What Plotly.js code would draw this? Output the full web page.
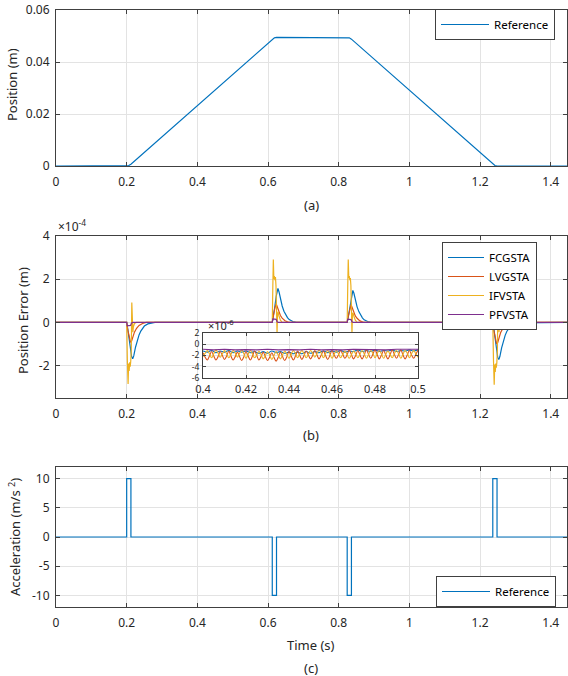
<!DOCTYPE html>
<html>
<head>
<meta charset="utf-8">
<script src="https://cdn.plot.ly/plotly-3.0.1.min.js"></script>
<style>html,body{margin:0;padding:0;background:#fff;}#chart{width:568px;height:676px;}</style>
</head>
<body>
<div id="chart"></div>
<script>
// ---------- Panel (a): reference position ----------
var posTime = [0, 0.2, 0.206, 0.212, 0.612, 0.618, 0.624, 0.824, 0.83, 0.836, 1.236, 1.242, 1.248, 1.446];
var posValue = [0, 0, 0.0002, 0.0007, 0.0488, 0.0493, 0.0495, 0.0495, 0.0493, 0.0488, 0.0007, 0.0002, 0, 0];

// ---------- Panel (b): position error (units of 1e-4 m) ----------
var fcgTime = [0, 0.2, 0.203, 0.207, 0.211, 0.214, 0.217, 0.22, 0.225, 0.23, 0.235, 0.24, 0.245, 0.25, 0.26, 0.27, 0.28,
  0.612, 0.615, 0.619, 0.623, 0.626, 0.628, 0.631, 0.635, 0.64, 0.645, 0.65, 0.655, 0.66, 0.67, 0.68,
  0.824, 0.827, 0.831, 0.835, 0.838, 0.840, 0.843, 0.847, 0.852, 0.857, 0.862, 0.867, 0.872, 0.882, 0.892,
  1.236, 1.239, 1.243, 1.247, 1.25, 1.253, 1.256, 1.261, 1.266, 1.271, 1.276, 1.281, 1.286, 1.296, 1.306, 1.446];
var fcgErr = [0, 0, -0.3, -0.8, -1.3, -1.58, -1.68, -1.55, -1.15, -0.82, -0.58, -0.4, -0.27, -0.17, -0.07, -0.02, 0,
  0, 0.25, 0.7, 1.2, 1.5, 1.57, 1.42, 1.08, 0.76, 0.52, 0.35, 0.22, 0.13, 0.04, 0,
  0, 0.24, 0.66, 1.14, 1.42, 1.48, 1.35, 1.03, 0.72, 0.5, 0.33, 0.21, 0.12, 0.04, 0,
  0, -0.3, -0.82, -1.33, -1.62, -1.72, -1.58, -1.18, -0.84, -0.6, -0.41, -0.28, -0.18, -0.07, -0.02, 0];

var lvgTime = [0, 0.2, 0.203, 0.207, 0.211, 0.214, 0.218, 0.222, 0.228, 0.235, 0.245, 0.255,
  0.612, 0.615, 0.619, 0.623, 0.626, 0.63, 0.635, 0.64, 0.648, 0.658,
  0.824, 0.827, 0.831, 0.835, 0.838, 0.842, 0.847, 0.852, 0.86, 0.87,
  1.236, 1.239, 1.243, 1.247, 1.25, 1.254, 1.258, 1.264, 1.271, 1.281, 1.291, 1.446];
var lvgErr = [0, 0, -0.35, -0.72, -0.92, -0.86, -0.65, -0.45, -0.27, -0.14, -0.05, 0,
  0, 0.3, 0.65, 0.86, 0.72, 0.5, 0.32, 0.2, 0.08, 0,
  0, 0.28, 0.62, 0.82, 0.69, 0.48, 0.3, 0.19, 0.07, 0,
  0, -0.38, -0.78, -1.0, -0.93, -0.7, -0.48, -0.29, -0.15, -0.05, 0, 0];

var ifvTime = [0, 0.2, 0.202, 0.204, 0.2055, 0.207, 0.2085, 0.21, 0.2115, 0.213, 0.2145, 0.216, 0.2175, 0.219, 0.222, 0.227,
  0.612, 0.6135, 0.615, 0.6165, 0.618, 0.6195, 0.621, 0.6225, 0.624, 0.6255, 0.627, 0.6285, 0.631, 0.635, 0.64,
  0.824, 0.8255, 0.827, 0.8285, 0.83, 0.8315, 0.833, 0.8345, 0.836, 0.8375, 0.839, 0.8405, 0.843, 0.847, 0.852,
  1.236, 1.238, 1.24, 1.2415, 1.243, 1.2445, 1.246, 1.2475, 1.249, 1.2505, 1.252, 1.2535, 1.255, 1.258, 1.263, 1.446];
var ifvErr = [0, 0, -1.8, -2.85, -1.9, -2.25, -1.85, -2.05, -1.8, -1.3, 0.92, 0.1, -0.45, -0.2, -0.05, 0,
  0, 1.6, 2.91, 2.0, 2.15, 1.95, 2.1, 1.7, 0.9, -0.5, 0.4, 0.5, 0.3, 0.1, 0,
  0, 1.6, 2.91, 2.05, 2.15, 1.95, 2.05, 1.7, 0.9, -0.5, 0.4, 0.45, 0.28, 0.1, 0,
  0, -1.8, -2.88, -1.95, -2.3, -1.9, -2.1, -1.85, -1.3, 0.9, 0.1, -0.45, -0.2, -0.05, 0, 0];

var pfvTime = [0, 0.2, 0.2015, 0.211, 0.2135, 0.217, 0.612, 0.6135, 0.623, 0.6255, 0.629,
  0.824, 0.8255, 0.835, 0.8375, 0.841, 1.236, 1.2375, 1.247, 1.2495, 1.253, 1.446];
var pfvErr = [0, 0, -0.16, -0.14, -0.03, 0, 0, 0.16, 0.14, 0.03, 0,
  0, 0.15, 0.13, 0.03, 0, 0, -0.16, -0.14, -0.03, 0, 0];

// ---------- Inset (units of 1e-6 m), t = 0.4 ... 0.5 ----------
var insetLvg = [
  -1.5,-2.3,-2.8,-2.1, -1.3,-2.1,-2.8,-2.2, -1.3,-2.0,-2.7,-2.1, -1.2,-2.1,-2.8,-2.2,
  -1.4,-2.2,-2.9,-2.2, -1.3,-2.1,-2.8,-2.1, -1.2,-2.0,-2.8,-2.2, -1.4,-2.2,-2.9,-2.3,
  -1.5,-2.3,-3.0,-2.3, -1.4,-2.2,-2.9,-2.2, -1.3,-2.1,-2.8,-2.1, -1.2,-2.0,-2.7,-2.0,
  -1.2,-1.9,-2.6,-2.0, -1.1,-1.9,-2.6,-1.9, -1.2,-2.0,-2.7,-2.0, -1.1,-1.9,-2.5,-1.9,
  -1.1,-1.8,-2.5,-1.9, -1.0,-1.8,-2.6,-2.0, -1.1,-1.9,-2.6,-1.9, -1.0,-1.8,-2.5,-1.8,
  -1.0,-1.8,-2.6,-1.9, -1.1,-1.9,-2.6,-1.9, -1.0,-1.8,-2.5,-1.8, -1.0,-1.9,-2.6,-1.9,
  -1.1,-1.9,-2.5,-1.8, -1.0];
var insetIfv = [
  -2.2,-1.6,-1.1,-1.7, -2.4,-1.7,-1.0,-1.6, -2.3,-1.7,-1.1,-1.7, -2.4,-1.8,-1.1,-1.6,
  -2.3,-1.6,-1.0,-1.7, -2.5,-1.8,-1.1,-1.7, -2.4,-1.9,-1.2,-1.8, -2.6,-2.0,-1.3,-1.9,
  -2.7,-2.0,-1.3,-1.9, -2.6,-1.9,-1.2,-1.8, -2.5,-1.8,-1.1,-1.7, -2.4,-1.7,-1.1,-1.7,
  -2.4,-1.8,-1.1,-1.6, -2.3,-1.7,-1.0,-1.6, -2.4,-1.7,-1.1,-1.7, -2.5,-1.8,-1.1,-1.7,
  -2.4,-1.8,-1.2,-1.8, -2.5,-1.9,-1.2,-1.7, -2.4,-1.8,-1.1,-1.7, -2.5,-1.8,-1.1,-1.6,
  -2.4,-1.7,-1.1,-1.7, -2.5,-1.8,-1.2,-1.8, -2.4,-1.7,-1.1,-1.7, -2.5,-1.8,-1.1,-1.6,
  -2.4,-1.7,-1.1,-1.7, -2.3];
var insetFcg = [-1.2,-1.4,-1.1,-1.5,-1.2,-1.4,-1.1,-1.5,-1.2,-1.4,
  -1.2,-1.5,-1.3,-1.6,-1.3,-1.6,-1.2,-1.5,-1.3,-1.6,
  -1.4,-1.7,-1.4,-1.7,-1.3,-1.6,-1.3,-1.5,-1.2,-1.5,
  -1.2,-1.4,-1.1,-1.4,-1.2,-1.3,-1.0,-1.3,-1.1,-1.3,
  -1.0,-1.3,-1.1,-1.2,-1.0,-1.3,-1.1,-1.2,-1.0,-1.2,-1.0];
var insetPfv = [-0.9,-1.0,-0.9,-1.0,-0.95,-1.0,-0.9,-1.0,-0.95,-1.0,-0.9,-1.0,-0.95,-1.0,-0.9,-0.95,-0.9,-1.0,-0.9,-0.95,-0.9];

// ---------- Panel (c): reference acceleration ----------
var accTime = [0, 0.2, 0.2, 0.212, 0.212, 0.612, 0.612, 0.624, 0.624, 0.824, 0.824, 0.836, 0.836, 1.236, 1.236, 1.248, 1.248, 1.446];
var accValue = [0, 0, 10, 10, 0, 0, -10, -10, 0, 0, -10, -10, 0, 0, 10, 10, 0, 0];

// ---------- Ticks ----------
var timeTicks = [0, 0.2, 0.4, 0.6, 0.8, 1, 1.2, 1.4];
var timeTickText = ['0', '0.2', '0.4', '0.6', '0.8', '1', '1.2', '1.4'];
var posTicks = [0, 0.02, 0.04, 0.06];
var posTickText = ['0', '0.02', '0.04', '0.06'];
var errTicks = [-2, 0, 2, 4];
var errTickText = ['-2', '0', '2', '4'];
var accTicks = [-10, -5, 0, 5, 10];
var accTickText = ['-10', '-5', '0', '5', '10'];
var insetXTicks = [0.4, 0.42, 0.44, 0.46, 0.48, 0.5];
var insetXTickText = ['0.4', '0.42', '0.44', '0.46', '0.48', '0.5'];
var insetYTicks = [-6, -4, -2, 0, 2];
var insetYTickText = ['-6', '-4', '-2', '0', '2'];

var C_BLUE = '#0072BD', C_RED = '#D95319', C_YEL = '#EDB120', C_PUR = '#7E2F8E';
var FONT = '"Noto Sans", "Open Sans", sans-serif';
var AX = '#404040', GRID = '#e3e3e3', TXT = '#262626';

var traces = [
  {x: posTime, y: posValue, type: 'scatter', mode: 'lines', name: 'Reference', line: {color: C_BLUE, width: 1.2}, xaxis: 'x', yaxis: 'y', legend: 'legend'},
  {x: fcgTime, y: fcgErr, type: 'scatter', mode: 'lines', name: 'FCGSTA', line: {color: C_BLUE, width: 1.2}, xaxis: 'x2', yaxis: 'y2', legend: 'legend2'},
  {x: lvgTime, y: lvgErr, type: 'scatter', mode: 'lines', name: 'LVGSTA', line: {color: C_RED, width: 1.2}, xaxis: 'x2', yaxis: 'y2', legend: 'legend2'},
  {x: ifvTime, y: ifvErr, type: 'scatter', mode: 'lines', name: 'IFVSTA', line: {color: C_YEL, width: 1.2}, xaxis: 'x2', yaxis: 'y2', legend: 'legend2'},
  {x: pfvTime, y: pfvErr, type: 'scatter', mode: 'lines', name: 'PFVSTA', line: {color: C_PUR, width: 1.2}, xaxis: 'x2', yaxis: 'y2', legend: 'legend2'},
  {x0: 0.4, dx: 0.002, y: insetFcg, type: 'scatter', mode: 'lines', name: 'FCGSTA', showlegend: false, line: {color: C_BLUE, width: 1.1, shape: 'spline'}, xaxis: 'x4', yaxis: 'y4'},
  {x0: 0.4, dx: 0.001, y: insetLvg, type: 'scatter', mode: 'lines', name: 'LVGSTA', showlegend: false, line: {color: C_RED, width: 1.1, shape: 'spline'}, xaxis: 'x4', yaxis: 'y4'},
  {x0: 0.4, dx: 0.001, y: insetIfv, type: 'scatter', mode: 'lines', name: 'IFVSTA', showlegend: false, line: {color: C_YEL, width: 1.1, shape: 'spline'}, xaxis: 'x4', yaxis: 'y4'},
  {x0: 0.4, dx: 0.005, y: insetPfv, type: 'scatter', mode: 'lines', name: 'PFVSTA', showlegend: false, line: {color: C_PUR, width: 1.1}, xaxis: 'x4', yaxis: 'y4'},
  {x: accTime, y: accValue, type: 'scatter', mode: 'lines', name: 'Reference', line: {color: C_BLUE, width: 1.2}, xaxis: 'x3', yaxis: 'y3', legend: 'legend3'}
];

function xAx(anchor, extra) {
  var a = {anchor: anchor, domain: [0, 1], range: [0, 1.446], tickvals: timeTicks, ticktext: timeTickText,
    showline: true, linecolor: AX, linewidth: 1, mirror: 'ticks', ticks: 'inside', ticklen: 4, tickcolor: AX,
    showgrid: true, gridcolor: GRID, zeroline: false, ticklabelstandoff: 5,
    tickfont: {family: FONT, size: 12, color: TXT}};
  for (var k in extra) a[k] = extra[k];
  return a;
}
function yAx(anchor, domain, range, tv, tt, extra) {
  var a = {anchor: anchor, domain: domain, range: range, tickvals: tv, ticktext: tt,
    showline: true, linecolor: AX, linewidth: 1, mirror: 'ticks', ticks: 'inside', ticklen: 4, tickcolor: AX,
    showgrid: true, gridcolor: GRID, zeroline: false, ticklabelstandoff: 3,
    tickfont: {family: FONT, size: 12, color: TXT}};
  for (var k in extra) a[k] = extra[k];
  return a;
}

var L = 56, R = 1, T = 10, B = 0;
var W = 568 - L - R, H = 676 - T - B;
function px(x) { return (x - L) / W; }
function py(y) { return 1 - (y - T) / H; }

function leg(x, y, iw) {
  return {bgcolor: '#ffffff', bordercolor: AX, borderwidth: 1, xanchor: 'left', yanchor: 'top',
    font: {family: FONT, size: 11.5, color: '#000'}, itemwidth: iw, tracegroupgap: 0, x: x, y: y};
}

var layout = {
  width: 568, height: 676,
  margin: {l: L, r: R, t: T, b: B},
  paper_bgcolor: '#ffffff', plot_bgcolor: '#ffffff',
  font: {family: FONT, size: 12, color: TXT},
  xaxis: xAx('y', {}),
  xaxis2: xAx('y2', {}),
  xaxis3: xAx('y3', {}),
  xaxis4: {anchor: 'y4', domain: [px(203), px(418)], range: [0.4, 0.5], tickvals: insetXTicks, ticktext: insetXTickText,
    showline: true, linecolor: AX, linewidth: 1, mirror: 'ticks', ticks: 'inside', ticklen: 3, tickcolor: AX,
    showgrid: true, gridcolor: GRID, zeroline: false, ticklabelstandoff: 1, tickfont: {family: FONT, size: 11, color: TXT}},
  yaxis: yAx('x', [py(166), py(5)], [0, 0.06], posTicks, posTickText, {}),
  yaxis2: yAx('x2', [py(398), py(236)], [-3.5, 4], errTicks, errTickText, {}),
  yaxis3: yAx('x3', [py(607), py(467)], [-12, 12], accTicks, accTickText, {}),
  yaxis4: {anchor: 'x4', domain: [py(378), py(333)], range: [-6, 2], tickvals: insetYTicks, ticktext: insetYTickText,
    showline: true, linecolor: AX, linewidth: 1, mirror: 'ticks', ticks: 'inside', ticklen: 3, tickcolor: AX,
    showgrid: true, gridcolor: GRID, zeroline: false, ticklabelstandoff: 1, tickfont: {family: FONT, size: 8.5, color: TXT}},
  legend: leg(px(435), py(9), 48),
  legend2: leg(px(442), py(242), 36),
  legend3: leg(px(436), py(576), 48),
  showlegend: true,
  annotations: [
    {text: 'Position (m)', xref: 'paper', yref: 'paper', x: px(12), y: py(85), textangle: -90, showarrow: false, xanchor: 'center', yanchor: 'middle', font: {family: FONT, size: 13, color: TXT}},
    {text: 'Position Error (m)', xref: 'paper', yref: 'paper', x: px(23), y: py(321), textangle: -90, showarrow: false, xanchor: 'center', yanchor: 'middle', font: {family: FONT, size: 13, color: TXT}},
    {text: 'Acceleration (m/s <sup>2</sup>)', xref: 'paper', yref: 'paper', x: px(14), y: py(537), textangle: -90, showarrow: false, xanchor: 'center', yanchor: 'middle', font: {family: FONT, size: 13, color: TXT}},
    {text: '(a)', xref: 'paper', yref: 'paper', x: px(311), y: py(205), showarrow: false, xanchor: 'center', yanchor: 'middle', font: {family: FONT, size: 13, color: TXT}},
    {text: '(b)', xref: 'paper', yref: 'paper', x: px(311), y: py(435), showarrow: false, xanchor: 'center', yanchor: 'middle', font: {family: FONT, size: 13, color: TXT}},
    {text: 'Time (s)', xref: 'paper', yref: 'paper', x: px(311), y: py(645), showarrow: false, xanchor: 'center', yanchor: 'middle', font: {family: FONT, size: 13, color: TXT}},
    {text: '(c)', xref: 'paper', yref: 'paper', x: px(311), y: py(668), showarrow: false, xanchor: 'center', yanchor: 'middle', font: {family: FONT, size: 13, color: TXT}},
    {text: '×10<sup>-4</sup>', xref: 'paper', yref: 'paper', x: px(56), y: py(226), showarrow: false, xanchor: 'left', yanchor: 'middle', font: {family: FONT, size: 12, color: TXT}},
    {text: '×10<sup>-6</sup>', xref: 'paper', yref: 'paper', x: px(206), y: py(325), showarrow: false, xanchor: 'left', yanchor: 'middle', font: {family: FONT, size: 11, color: TXT}}
  ]
};

Plotly.newPlot('chart', traces, layout, {displayModeBar: false, staticPlot: true});
</script>
</body>
</html>
